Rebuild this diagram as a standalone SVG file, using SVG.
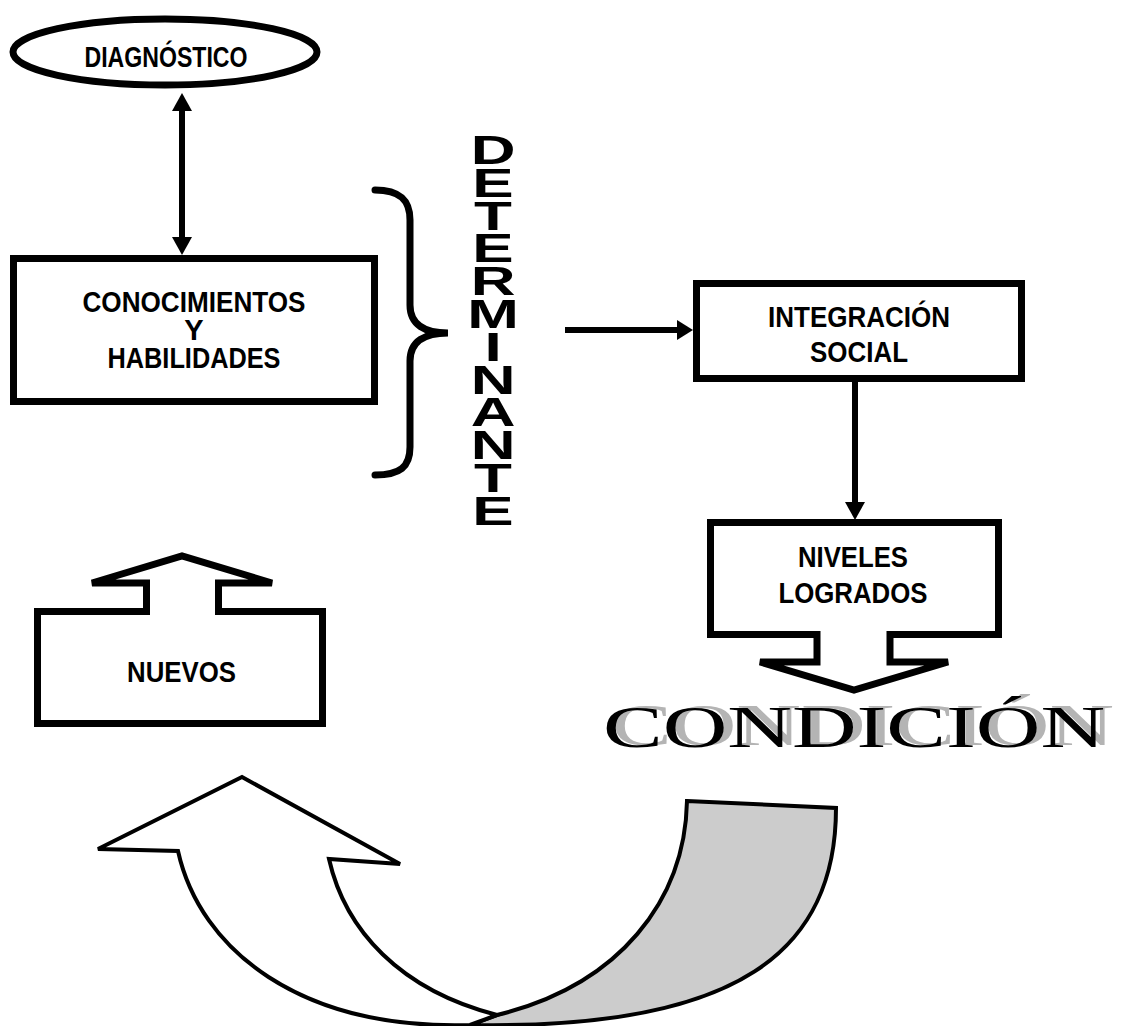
<svg xmlns="http://www.w3.org/2000/svg" width="1125" height="1026" viewBox="0 0 1125 1026">
<style>
.lbl{font-family:"Liberation Sans",Arial,sans-serif;font-weight:bold;font-size:29px;fill:#000;text-anchor:middle}
.box{fill:#fff;stroke:#000;stroke-width:7}
.ln{stroke:#000;stroke-width:6;fill:none}
.ah{fill:#000}
.det{font-family:"Liberation Sans",Arial,sans-serif;font-weight:bold;font-size:40px;fill:#000;text-anchor:middle}
.cond{font-family:"Liberation Serif","Times New Roman",serif;font-size:60px}
.curve{stroke:#000;stroke-width:4;stroke-linejoin:miter}
</style>
<rect width="1125" height="1026" fill="#fff"/>

<g id="diagnostico">
<ellipse cx="165" cy="52" rx="152" ry="33" fill="#fff" stroke="#000" stroke-width="7"/>
<text class="lbl" x="166" y="67" textLength="163" lengthAdjust="spacingAndGlyphs">DIAGNÓSTICO</text>
</g>

<g id="conocimientos">
<rect class="box" x="13.5" y="258.5" width="361" height="143"/>
<text class="lbl" x="194" y="312" textLength="223" lengthAdjust="spacingAndGlyphs">CONOCIMIENTOS</text>
<text class="lbl" x="194" y="340">Y</text>
<text class="lbl" x="194" y="368" textLength="173" lengthAdjust="spacingAndGlyphs">HABILIDADES</text>
</g>

<g id="llave">
<path d="M375,190 C400,190 410,200 410,220 V305 C410,325 425,333 448,333 C425,333 410,341 410,361 V447 C410,467 400,475 375,475" fill="none" stroke="#000" stroke-width="7" stroke-linecap="round"/>
</g>

<g id="determinante" transform="translate(493,0) scale(1.55,1)">
<text class="det" x="0" y="164">D</text>
<text class="det" x="0" y="197">E</text>
<text class="det" x="0" y="230">T</text>
<text class="det" x="0" y="262">E</text>
<text class="det" x="0" y="295">R</text>
<text class="det" x="0" y="328">M</text>
<text class="det" x="0" y="361">I</text>
<text class="det" x="0" y="394">N</text>
<text class="det" x="0" y="426">A</text>
<text class="det" x="0" y="459">N</text>
<text class="det" x="0" y="492">T</text>
<text class="det" x="0" y="525">E</text>
</g>

<g id="integracion">
<rect class="box" x="696.5" y="283.5" width="325" height="95"/>
<text class="lbl" x="859" y="327" textLength="182" lengthAdjust="spacingAndGlyphs">INTEGRACIÓN</text>
<text class="lbl" x="859" y="362" textLength="98" lengthAdjust="spacingAndGlyphs">SOCIAL</text>
</g>

<g id="niveles">
<path class="box" d="M710.5,522.5 H998.5 V634.5 H890 V662 H948 L854,690 L760,662 H817 V634.5 H710.5 Z"/>
<text class="lbl" x="853" y="567" textLength="110" lengthAdjust="spacingAndGlyphs">NIVELES</text>
<text class="lbl" x="853" y="603" textLength="149" lengthAdjust="spacingAndGlyphs">LOGRADOS</text>
</g>

<g id="condicion">
<text class="cond" x="612" y="745" fill="#b4b4b4" textLength="502" lengthAdjust="spacingAndGlyphs">CONDICIÓN</text>
<text class="cond" x="603" y="747" fill="#000" textLength="502" lengthAdjust="spacingAndGlyphs">CONDICIÓN</text>
</g>

<g id="nuevos">
<path class="box" d="M37.5,611.5 H146.5 V583 H92 L182,556 L272,583 H218.5 V611.5 H322.5 V723.5 H37.5 Z"/>
<text class="lbl" x="181.5" y="682" textLength="109" lengthAdjust="spacingAndGlyphs">NUEVOS</text>
</g>

<g id="flecha-curva">
<path class="curve" fill="#cccccc" d="M687,801 L836,808 C836,950 740,1030 470,1025 L497,1015 C620,985 685,900 687,801 Z"/>
<path class="curve" fill="#fff" d="M98,849 L242,777 L400,864 L329,859 C345,930 400,990 497,1015 L470,1025 C300,1030 200,950 178,851 Z"/>
</g>

<g id="conectores">
<line class="ln" x1="182" y1="108" x2="182" y2="240"/>
<polygon class="ah" points="182,93 172,111 192,111"/>
<polygon class="ah" points="182,255 172,237 192,237"/>
<line class="ln" x1="565" y1="330" x2="682" y2="330"/>
<polygon class="ah" points="693,330 677,320 677,340"/>
<line class="ln" x1="855" y1="382" x2="855" y2="505"/>
<polygon class="ah" points="855,520 845,502 865,502"/>
</g>
</svg>
